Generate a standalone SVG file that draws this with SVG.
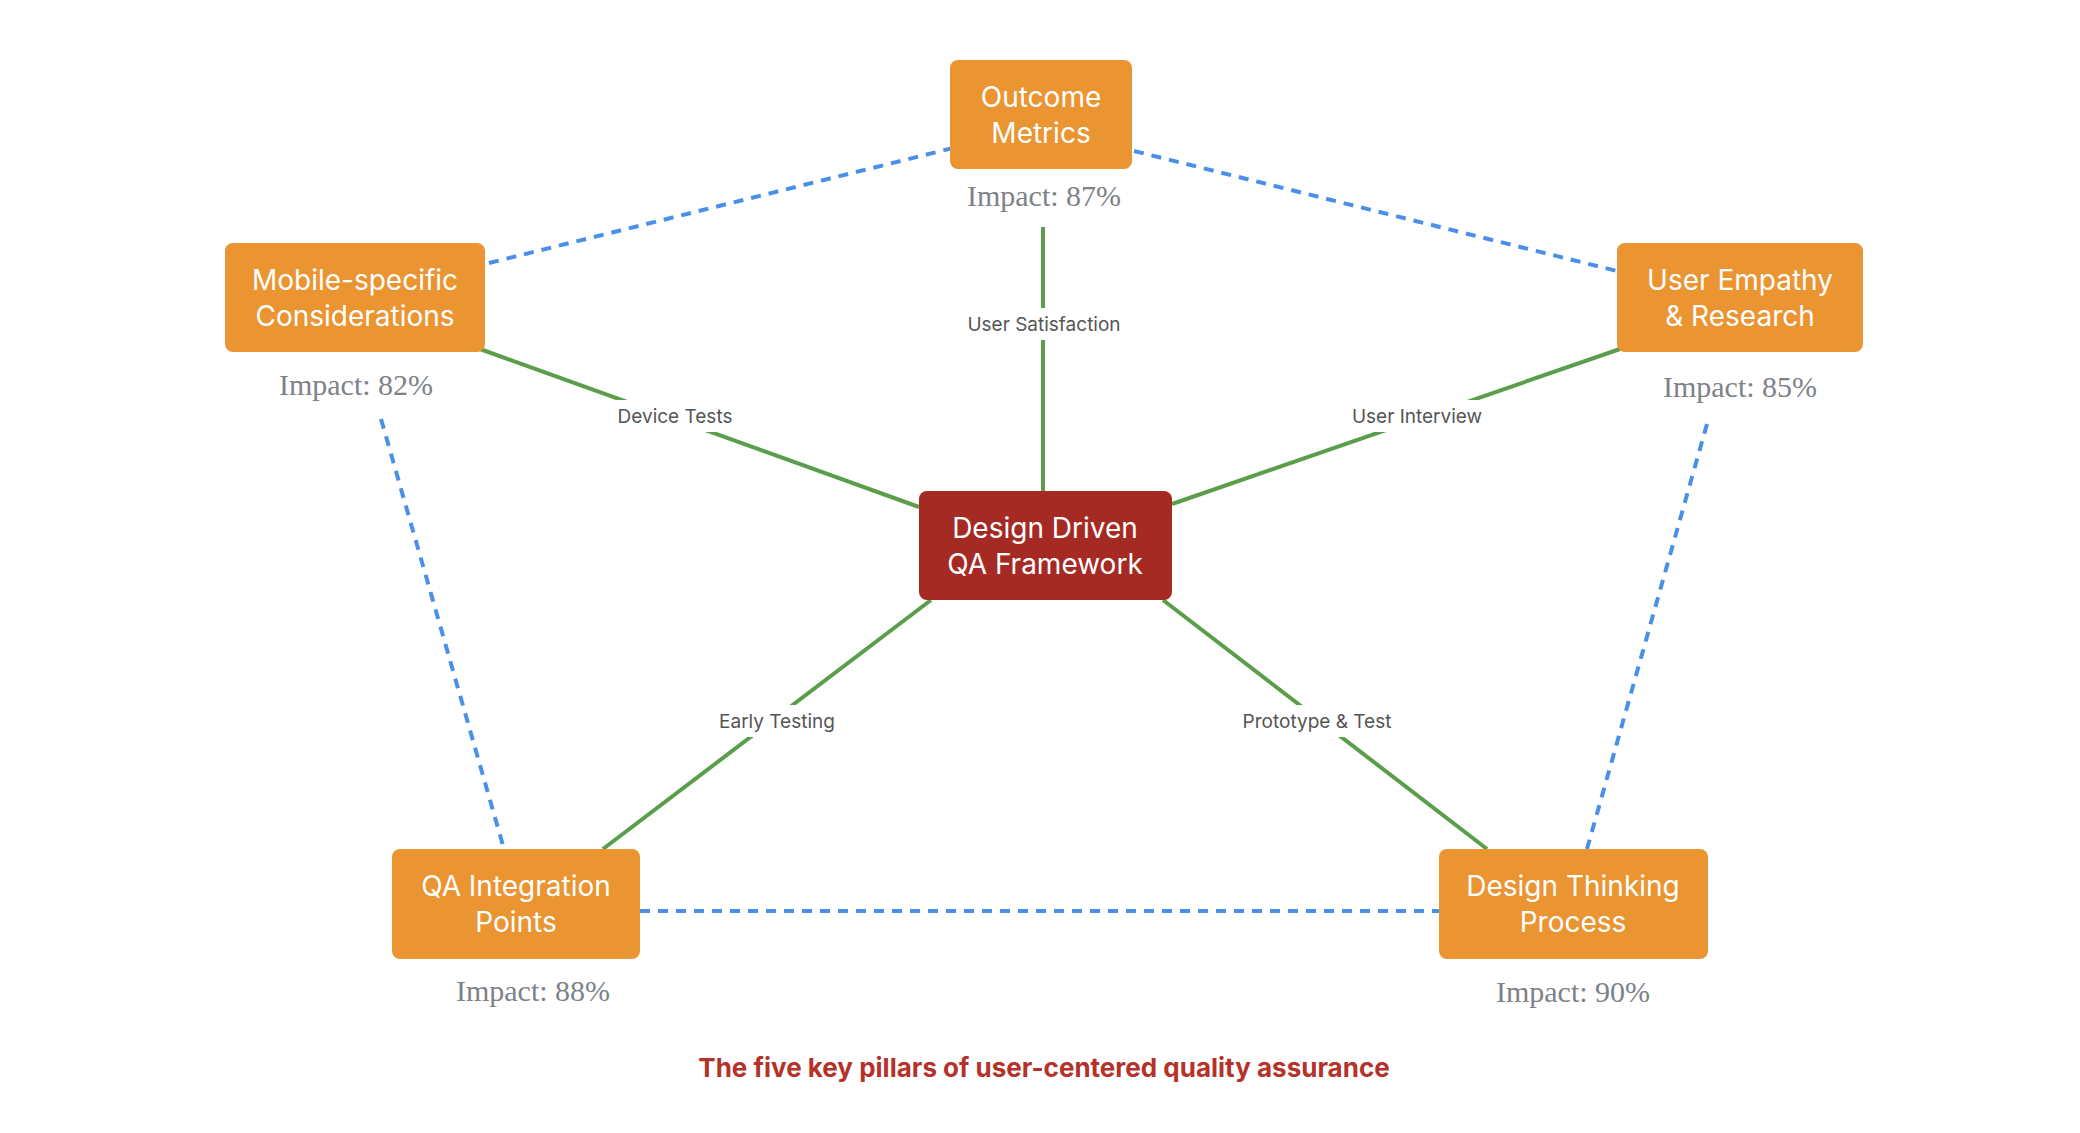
<svg xmlns="http://www.w3.org/2000/svg" width="2080" height="1133" viewBox="0 0 2080 1133">
<style>
.n{fill:#EA9432}
.c{fill:#A52A24}
.t{font-family:Inter,"Liberation Sans",sans-serif;font-size:28px;fill:#fff;text-anchor:middle}
.imp{font-family:"Liberation Serif",serif;font-size:30px;fill:#7d8288;text-anchor:middle}
.g{stroke:#5A9E4B;stroke-width:4;fill:none}
.b{stroke:#4A90E8;stroke-width:4;stroke-dasharray:10 8;fill:none}
.lb{fill:#fff}
.l{font-family:Inter,"Liberation Sans",sans-serif;font-size:19px;fill:#555;text-anchor:middle}
</style>
<rect width="2080" height="1133" fill="#fff"/>
<g id="connectors">
<line class="b" x1="953" y1="148" x2="485" y2="264"/>
<line class="b" x1="1134" y1="151" x2="1617" y2="271"/>
<line class="b" x1="381" y1="419" x2="504" y2="849"/>
<line class="b" x1="1707" y1="424" x2="1587" y2="849"/>
<line class="b" x1="640" y1="911" x2="1439" y2="911"/>
<line class="g" x1="1043" y1="227" x2="1043" y2="491"/>
<line class="g" x1="480" y1="349" x2="919" y2="507"/>
<line class="g" x1="1620" y1="349" x2="1172" y2="504"/>
<line class="g" x1="603" y1="849" x2="931" y2="600"/>
<line class="g" x1="1487" y1="849" x2="1163" y2="600"/>
<rect class="lb" x="964" y="308" width="160" height="32"/><text class="l" x="1044" y="331">User Satisfaction</text>
<rect class="lb" x="612" y="400" width="126" height="32"/><text class="l" x="675" y="423">Device Tests</text>
<rect class="lb" x="1350" y="400" width="134" height="32"/><text class="l" x="1417" y="423">User Interview</text>
<rect class="lb" x="712" y="705" width="130" height="32"/><text class="l" x="777" y="728">Early Testing</text>
<rect class="lb" x="1238" y="705" width="158" height="32"/><text class="l" x="1317" y="728">Prototype &amp; Test</text>
</g>
<g id="outcome"><rect class="n" x="950" y="60" width="182" height="109" rx="8"/><text class="t" x="1041" y="107">Outcome</text><text class="t" x="1041" y="143">Metrics</text><text class="imp" x="1044" y="206">Impact: 87%</text></g>
<g id="center"><rect class="c" x="919" y="491" width="253" height="109" rx="8"/><text class="t" x="1045" y="538">Design Driven</text><text class="t" x="1045" y="574">QA Framework</text></g>
<g id="mobile"><rect class="n" x="225" y="243" width="260" height="109" rx="8"/><text class="t" x="355" y="290">Mobile-specific</text><text class="t" x="355" y="326">Considerations</text><text class="imp" x="356" y="395">Impact: 82%</text></g>
<g id="empathy"><rect class="n" x="1617" y="243" width="246" height="109" rx="8"/><text class="t" x="1740" y="290">User Empathy</text><text class="t" x="1740" y="326">&amp; Research</text><text class="imp" x="1740" y="397">Impact: 85%</text></g>
<g id="qa"><rect class="n" x="392" y="849" width="248" height="110" rx="8"/><text class="t" x="516" y="896">QA Integration</text><text class="t" x="516" y="932">Points</text><text class="imp" x="533" y="1001">Impact: 88%</text></g>
<g id="dt"><rect class="n" x="1439" y="849" width="269" height="110" rx="8"/><text class="t" x="1573" y="896">Design Thinking</text><text class="t" x="1573" y="932">Process</text><text class="imp" x="1573" y="1002">Impact: 90%</text></g>
<text x="1044" y="1077" font-family="Inter,'Liberation Sans',sans-serif" font-size="26" font-weight="bold" fill="#B5322A" text-anchor="middle">The five key pillars of user-centered quality assurance</text>
</svg>
